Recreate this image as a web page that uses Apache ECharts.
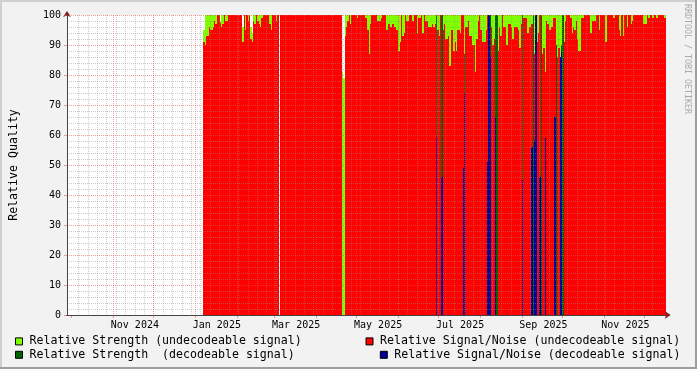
<!DOCTYPE html>
<html>
<head>
<meta charset="utf-8">
<script src="https://cdn.jsdelivr.net/npm/echarts@6/dist/echarts.min.js"></script>
<style>
html,body{margin:0;padding:0;background:#F2F2F2;}
#chart{width:697px;height:369px;}
</style>
</head>
<body>
<div id="chart"></div>
<script>
// ---- data (one value per day, first day = 2025-01-07) ----
const seriesNames = [
  'Relative Strength (undecodeable signal)',
  'Relative Signal/Noise (undecodeable signal)',
  'Relative Strength  (decodeable signal)',
  'Relative Signal/Noise (decodeable signal)'
];
const firstDay = [2025, 0, 7];

const strengthUndecodeable = [
  95,100,100,100,100,100,100,100,100,100,
  100,100,98,100,100,100,100,100,100,100,
  100,100,100,100,100,100,100,100,100,96,
  100,100,100,100,100,96,94,100,100,100,
  100,100,100,100,100,100,100,100,100,100,
  100,100,100,100,100,100,null,100,100,100,
  100,100,100,100,100,100,100,100,100,100,100,100,100,100,100,100,100,100,100,100,
  100,100,100,100,100,100,100,100,100,100,100,100,100,100,100,100,100,100,100,100,
  100,100,100,81,79,100,100,100,100,100,
  100,100,100,100,100,100,100,100,100,100,100,100,100,100,100,100,100,100,100,100,
  100,100,100,100,100,100,100,100,100,100,100,100,100,100,100,100,100,100,100,100,
  100,100,100,100,100,100,100,100,100,100,100,100,100,100,100,100,100,100,100,100,
  100,100,100,100,100,100,100,100,100,100,100,100,100,100,100,100,100,100,100,100,
  100,100,100,100,100,100,100,100,100,100,100,100,100,100,100,100,100,100,100,100,
  100,100,100,100,100,100,100,100,100,100,100,100,100,100,100,100,100,100,100,100,
  100,100,100,100,100,100,100,100,100,100,100,100,100,100,100,100,100,100,100,100,
  100,100,100,100,100,100,100,100,100,100,100,100,100,100,100,100,100,100,100,100,
  100,100,100,100,100,100,100,100,100,100,100,100,100,100,100,100,100,100,100,100,
  100,100,100,100,100,100,100,100,100,100,100,100,100,100,100,100,100,100,100,100,
  100,100,100,100,100,100,100,100,100,100,100,100,100,100,100,100,100,100,100,100,
  100,100,100,100,100,100,100,100,100,100,
  100,100,100,100
];

const snrUndecodeable = [
  91,90,93,93,96,95,95,96,98,97,
  100,100,97.5,96,97,100,98,98,100,100,
  100,100,100,100,100,100,100,100,100,91,
  100,95,100,98,100,92,91,98,97,100,
  98,97,96,99,100,100,100,100,100,97,
  95,100,100,100,98,100,null,100,100,100,
  100,100,100,100,100,100,100,100,100,100,100,100,100,100,100,100,100,100,100,100,
  100,100,100,100,100,100,100,100,100,100,100,100,100,100,100,100,100,100,100,100,
  100,100,100,0,0,93,96,98,100,97,
  100,100,100,100,99,100,100,100,100,100,
  99,99,95,87,97,100,100,100,100,98,
  98,98,99,100,100,100,95,97,97,96,
  97,97,96,95,95,88,91,100,93,94,
  100,98,98,100,100,98,98,100,100,94,
  99,99,100,94,100,98,98,96,96,96,
  97,96,97,100,95,93,100,100,95,97,
  92,92,93,83,95,95,88,91,88,95,
  95,94,100,100,80,96,96,98,93,93,
  90,90,81,92,98,100,95,91,91,91,
  95,100,100,100,96,90,92,100,100,88,
  96,93,100,96,96,90,90,97,97,96,
  92,96,96,96,95,89,97,100,99,99,
  99,94,96,96,97,100,87,100,91,94,
  100,100,87,89,81,98,97,95,95,96,
  99,99,86,86,89,85,85,100,91,98,
  100,100,100,99,94,96,95,98,92,88,
  88,99,99,100,100,100,100,100,94,98,
  98,98,100,100,95,100,100,100,100,91,
  100,100,100,100,100,99,100,100,100,95,
  93,100,93,100,100,96,100,100,97,98,
  100,100,100,100,100,100,100,97,97,97,
  100,99,100,100,99,100,100,99,100,100,
  100,100,100,99
];

const strengthDecodeable = [
  0,0,0,0,0,0,0,0,0,0,0,0,0,0,0,0,0,0,0,0,
  0,0,0,0,0,0,0,0,0,0,0,0,0,0,0,0,0,0,0,0,
  0,0,0,0,0,0,0,0,0,0,0,0,0,0,0,0,0,0,0,0,
  0,0,0,0,0,0,0,0,0,0,0,0,0,0,0,0,0,0,0,0,
  0,0,0,0,0,0,0,0,0,0,0,0,0,0,0,0,0,0,0,0,
  0,0,0,0,0,0,0,0,0,0,0,0,0,0,0,0,0,0,0,0,
  0,0,0,0,0,0,0,0,0,0,0,0,0,0,0,0,0,0,0,0,
  0,0,0,0,0,0,0,0,0,0,0,0,0,0,0,0,0,0,0,0,
  0,0,0,0,0,0,0,0,0,0,
  0,0,0,100,0,0,0,100,0,0,
  0,0,0,0,0,0,0,0,0,0,
  0,0,0,0,87,0,0,0,0,0,
  0,0,0,0,0,0,0,0,0,0,
  0,0,100,100,0,0,0,100,100,0,
  0,0,0,0,0,0,0,0,0,0,
  0,0,0,0,0,0,0,100,0,0,
  0,0,0,0,0,100,0,0,0,0,
  0,100,0,0,0,0,0,0,0,0,
  0,0,90,0,0,0,90,100,0,0,
  0,0,0,0,0,0,0,0,0,0,0,0,0,0,0,0,0,0,0,0,
  0,0,0,0,0,0,0,0,0,0,0,0,0,0,0,0,0,0,0,0,
  0,0,0,0,0,0,0,0,0,0,0,0,0,0,0,0,0,0,0,0,
  0,0,0,0,0,0,0,0,0,0,
  0,0,0,0
];

const snrDecodeable = [
  0,0,0,0,0,0,0,0,0,0,0,0,0,0,0,0,0,0,0,0,
  0,0,0,0,0,0,0,0,0,0,0,0,0,0,0,0,0,0,0,0,
  0,0,0,0,0,0,0,0,0,0,0,0,0,0,0,0,0,0,0,0,
  0,0,0,0,0,0,0,0,0,0,0,0,0,0,0,0,0,0,0,0,
  0,0,0,0,0,0,0,0,0,0,0,0,0,0,0,0,0,0,0,0,
  0,0,0,0,0,0,0,0,0,0,0,0,0,0,0,0,0,0,0,0,
  0,0,0,0,0,0,0,0,0,0,0,0,0,0,0,0,0,0,0,0,
  0,0,0,0,0,0,0,0,0,0,0,0,0,0,0,0,0,0,0,0,
  0,0,0,0,0,0,0,0,0,0,
  0,0,0,59,0,0,0,46,0,0,
  0,0,0,0,0,0,0,0,0,0,
  0,0,0,49,74,0,0,0,0,0,
  0,0,0,0,0,0,0,0,0,0,
  0,51,100,86,0,0,0,66,0,0,
  0,0,0,0,0,0,0,0,0,0,
  0,0,0,0,0,0,0,45,0,0,
  0,0,0,0,56,0,58,100,0,0,
  46,0,0,0,59,0,0,0,0,0,
  0,66,0,0,0,86,88,0,0,0,
  0,0,0,0,0,0,0,0,0,0,0,0,0,0,0,0,0,0,0,0,
  0,0,0,0,0,0,0,0,0,0,0,0,0,0,0,0,0,0,0,0,
  0,0,0,0,0,0,0,0,0,0,0,0,0,0,0,0,0,0,0,0,
  0,0,0,0,0,0,0,0,0,0,
  0,0,0,0
];

const seriesColors = ['#7FFF00', '#FF0000', '#006400', '#000099'];

// axis labels (centred on mid-month) and range
const xLabels = ['Nov 2024', 'Jan 2025', 'Mar 2025', 'May 2025', 'Jul 2025', 'Sep 2025', 'Nov 2025'];
const xLabelDates = [[2024,10,17],[2025,0,17],[2025,2,17],[2025,4,17],[2025,6,17],[2025,8,17],[2025,10,17]];
const axisRange = [[2024, 8, 27, 12], [2025, 11, 17, 0]];
const yTitle = 'Relative Quality';
const watermark = 'RRDTOOL / TOBI OETIKER';

// ---- build ----
[strengthUndecodeable, snrUndecodeable, strengthDecodeable, snrDecodeable].forEach(function (a, k) {
  if (a.length !== 344) throw new Error('array ' + k + ' has length ' + a.length);
});

const DAY = 86400000;
const t0 = new Date(firstDay[0], firstDay[1], firstDay[2]).getTime();
const axisMin = new Date(axisRange[0][0], axisRange[0][1], axisRange[0][2], axisRange[0][3]).getTime();
const axisMax = new Date(axisRange[1][0], axisRange[1][1], axisRange[1][2], axisRange[1][3]).getTime();
const labelTimes = xLabelDates.map(d => new Date(d[0], d[1], d[2]).getTime());

const monthStarts = [];
for (let y = 2024, m = 9; y < 2026; ) {
  const t = new Date(y, m, 1).getTime();
  if (t > axisMax) break;
  monthStarts.push(t);
  m++; if (m > 11) { m = 0; y++; }
}
const weekStarts = [];
for (let t = new Date(2024, 8, 29).getTime(); t <= axisMax; t += 7 * DAY) weekStarts.push(t);

// one column per daily sample, edges snapped to whole pixels (like rrdtool)
function columnSeries(idx, values) {
  const c = seriesColors[idx];
  return {
    name: seriesNames[idx], type: 'custom', silent: true, clip: true,
    color: c, itemStyle: { color: c },
    xAxisIndex: 0, yAxisIndex: 0, z: 2,
    encode: { x: 0, y: 1 },
    data: values.map((v, i) => [t0 + i * DAY, v == null ? NaN : v]),
    renderItem: function (params, api) {
      const v = api.value(1);
      if (v == null || isNaN(v) || v <= 0) return null;
      const t = api.value(0);
      const p0 = api.coord([t, 0]);
      const p1 = api.coord([t + DAY, v]);
      const x0 = Math.round(p0[0]), x1 = Math.round(p1[0]);
      const yTop = Math.round(p1[1]), yBot = Math.round(p0[1]);
      if (x1 <= x0 || yBot <= yTop) return null;
      return {
        type: 'rect',
        shape: { x: x0, y: yTop, width: x1 - x0, height: yBot - yTop },
        style: { fill: c }
      };
    }
  };
}

const FONT = '"DejaVu Sans Mono", monospace';
const MAJOR = 'rgba(222,79,79,0.55)';
const MINOR = 'rgba(143,143,143,0.45)';

function legendAt(idx, left, top) {
  return {
    show: true, left: left, top: top, padding: 0, orient: 'horizontal',
    selectedMode: false, icon: 'rect', itemWidth: 7, itemHeight: 7,
    data: [{ name: seriesNames[idx], itemStyle: { color: seriesColors[idx], borderColor: '#000', borderWidth: 1 } }],
    itemStyle: { borderColor: '#000', borderWidth: 1 },
    textStyle: { fontFamily: FONT, fontSize: 11.6, color: '#000', padding: [0, 0, 0, 2] }
  };
}

const chart = echarts.init(document.getElementById('chart'), null, { renderer: 'canvas' });
chart.setOption({
  animation: false,
  backgroundColor: '#F2F2F2',
  grid: { left: 67, top: 15, right: 31.3, bottom: 54, show: true, backgroundColor: '#FFFFFF', borderWidth: 0 },
  xAxis: [
    {
      type: 'value', min: axisMin, max: axisMax, position: 'bottom', z: 6,
      axisLine: { show: true, onZero: false, lineStyle: { color: '#444', width: 1 } },
      axisTick: { show: false },
      axisLabel: {
        customValues: labelTimes, fontFamily: FONT, fontSize: 10, color: '#000', margin: 5,
        hideOverlap: false,
        formatter: function (v) {
          const k = labelTimes.findIndex(t => Math.abs(t - v) < DAY);
          return k >= 0 ? xLabels[k] : '';
        }
      },
      splitLine: { show: false }
    },
    {
      type: 'value', min: axisMin, max: axisMax, position: 'bottom', z: 5,
      axisLine: { show: true, onZero: false, symbol: ['none', 'arrow'], symbolSize: [6, 6], symbolOffset: [0, 5], lineStyle: { color: '#801F1F', width: 1 } },
      axisTick: { show: true, customValues: monthStarts, length: 3, lineStyle: { color: MAJOR } },
      axisLabel: { show: false },
      splitLine: { show: true, showMinLine: false, showMaxLine: false, lineStyle: { color: MAJOR, width: 1, type: [1, 1] } }
    },
    {
      type: 'value', min: axisMin, max: axisMax, position: 'bottom', z: 4,
      axisLine: { show: false },
      axisTick: { show: false, customValues: weekStarts },
      axisLabel: { show: false },
      splitLine: { show: true, showMinLine: false, showMaxLine: false, lineStyle: { color: MINOR, width: 1, type: [1, 1] } }
    }
  ],
  yAxis: [
    {
      type: 'value', min: 0, max: 100, interval: 10, position: 'left', z: 6,
      axisLine: { show: true, onZero: false, lineStyle: { color: '#444', width: 1 } },
      axisTick: { show: true, length: 3, lineStyle: { color: MAJOR } },
      axisLabel: { fontFamily: FONT, fontSize: 10, color: '#000', margin: 6 },
      splitLine: { show: true, showMinLine: false, lineStyle: { color: MAJOR, width: 1, type: [1, 1] } },
      minorTick: { show: false, splitNumber: 5 },
      minorSplitLine: { show: true, lineStyle: { color: MINOR, width: 1, type: [1, 1] } },
      name: yTitle, nameLocation: 'middle', nameGap: 47, nameRotate: 90,
      nameTextStyle: { fontFamily: FONT, fontSize: 11.6, color: '#000' }
    },
    {
      type: 'value', min: 0, max: 100, position: 'left', z: 5,
      axisLine: { show: true, onZero: false, symbol: ['none', 'arrow'], symbolSize: [6, 6], symbolOffset: [0, 4], lineStyle: { color: '#801F1F', width: 1 } },
      axisTick: { show: false }, axisLabel: { show: false }, splitLine: { show: false }
    }
  ],
  legend: [
    legendAt(0, 15, 335.4),
    legendAt(1, 365.5, 335.4),
    legendAt(2, 15, 348.8),
    legendAt(3, 379.8, 348.8)
  ],
  graphic: [
    { type: 'rect', silent: true, shape: { x: 0, y: 0, width: 697, height: 2 }, style: { fill: '#CFCFCF' } },
    { type: 'rect', silent: true, shape: { x: 0, y: 0, width: 2, height: 369 }, style: { fill: '#CFCFCF' } },
    { type: 'rect', silent: true, shape: { x: 0, y: 367, width: 697, height: 2 }, style: { fill: '#9E9E9E' } },
    { type: 'rect', silent: true, shape: { x: 695, y: 0, width: 2, height: 369 }, style: { fill: '#9E9E9E' } },
    {
      type: 'text', silent: true, x: 687, y: 4, rotation: -Math.PI / 2,
      style: { text: watermark, fill: '#AAAAAA', font: '8.3px "DejaVu Sans Mono", monospace', textAlign: 'left', textVerticalAlign: 'middle' }
    }
  ],
  series: [
    columnSeries(0, strengthUndecodeable),
    columnSeries(1, snrUndecodeable),
    columnSeries(2, strengthDecodeable),
    columnSeries(3, snrDecodeable)
  ]
});
</script>
</body>
</html>
